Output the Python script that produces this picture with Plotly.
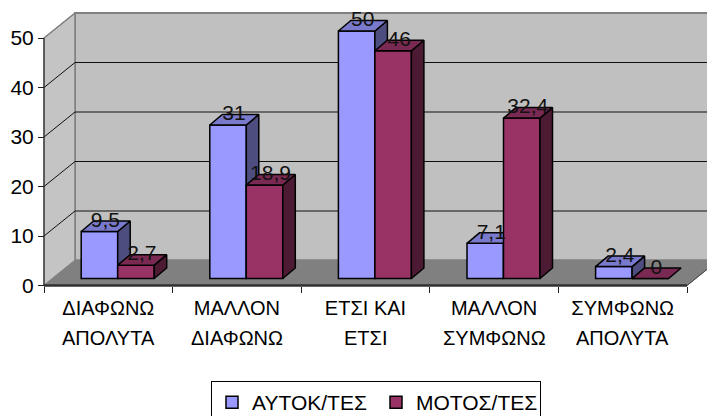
import plotly.graph_objects as go

line1 = ["ΔΙΑΦΩΝΩ", "ΜΑΛΛΟΝ", "ΕΤΣΙ ΚΑΙ", "ΜΑΛΛΟΝ", "ΣΥΜΦΩΝΩ"]
line2 = ["ΑΠΟΛΥΤΑ", "ΔΙΑΦΩΝΩ", "ΕΤΣΙ", "ΣΥΜΦΩΝΩ", "ΑΠΟΛΥΤΑ"]
autok = [9.5, 31, 50, 7.1, 2.4]
moto = [2.7, 18.9, 46, 32.4, 0]
autok_text = ["9,5", "31", "50", "7,1", "2,4"]
moto_text = ["2,7", "18,9", "46", "32,4", "0"]
y_ticks = [0, 10, 20, 30, 40, 50]

W, H = 707, 416
PX_X = 128.6   # px per category
PX_Y = 4.95    # px per value unit
LEFT, RIGHT, TOP, BOTTOM = 30, 707, 5, 300
AX_X, AX_Y = 44, 285.5
FONT = "Liberation Sans, Arial, sans-serif"
FS = 20


def ux(p):
    return p / PX_X


def uy(p):
    return p / PX_Y


x_range = [-0.5 - ux(AX_X - LEFT), -0.5 + ux(RIGHT - AX_X)]
y_range = [-uy(BOTTOM - AX_Y), uy(AX_Y - TOP)]

WX, WY = ux(31), uy(25)          # wall depth
BX, BY = ux(9.4), uy(7)          # front of bars relative to the axis plane
DX, DY = ux(12.5), uy(10.5)      # bar depth
BW = ux(36.5)

fig = go.Figure()


def poly(xs, ys, fill, line="black", lw=1.5, ax=("x", "y")):
    fig.add_trace(go.Scatter(
        x=xs, y=ys, mode="lines", fill="toself" if fill else None, fillcolor=fill,
        line=dict(color=line, width=lw), xaxis=ax[0], yaxis=ax[1],
        showlegend=False, hoverinfo="skip"))


x0, x1 = -0.5, 4.5
top = 50
# walls and floor
poly([x0 + WX, x1 + WX + 1, x1 + WX + 1, x0 + WX, x0 + WX], [WY, WY, top + WY, top + WY, WY], "#C0C0C0", "#808080", 2)
poly([x0, x0 + WX, x0 + WX, x0, x0], [0, WY, top + WY, top, 0], "#C4C4C4", "#808080", 1.5)
poly([x0, x1, x1 + WX, x0 + WX, x0], [0, 0, WY, WY, 0], "#808080", "#808080", 1)
# gridlines
for v in y_ticks[1:]:
    poly([x0, x0 + WX, x1 + WX + 1], [v, v + WY, v + WY], None, "#101010" if v != 50 else "#808080", 1)
poly([x0 + WX, x1 + WX + 1], [WY, WY], None, "#808080", 2)
poly([x0 + WX, x1 + WX + 1], [top + WY, top + WY], None, "#808080", 2)
# axis lines
poly([x0, x1], [0, 0], None, "#303030", 2.5)
poly([x0, x0], [0, top], None, "#202020", 1)
poly([x1, x1 + WX], [0, WY], None, "#404040", 1)


def series(name, vals, offset, front, side, topc, ax):
    xa, ya = ax
    for i, v in enumerate(vals):
        l = i + BX + offset
        r = l + BW
        if v > 0:
            poly([r, r + DX, r + DX, r, r], [BY, BY + DY, BY + DY + v, BY + v, BY], side, ax=ax)
        poly([l, r, r + DX, l + DX, l], [BY + v, BY + v, BY + DY + v, BY + DY + v, BY + v], topc, ax=ax)
    fig.add_trace(go.Bar(
        x=[i + BX + offset + BW / 2 for i in range(len(vals))], y=vals, base=[BY] * len(vals),
        width=BW, name=name, marker=dict(color=front, line=dict(color="black", width=1.5)),
        xaxis=xa, yaxis=ya, hoverinfo="skip"))


series("ΑΥΤΟΚ/ΤΕΣ", autok, -BW, "#9999FF", "#4D4D80", "#7A7ACC", ("x2", "y2"))
series("ΜΟΤΟΣ/ΤΕΣ", moto, 0, "#993366", "#4D1A33", "#7A2952", ("x3", "y3"))

# data labels
for vals, txt, off in [(autok, autok_text, -BW), (moto, moto_text, 0)]:
    fig.add_trace(go.Scatter(
        x=[i + BX + off + BW / 2 + ux(6) for i in range(5)],
        y=[v + BY + uy(10) for v in vals],
        text=txt, mode="text", textposition="middle center",
        textfont=dict(family=FONT, size=21, color="#111111"),
        xaxis="x3", yaxis="y3", showlegend=False, hoverinfo="skip", cliponaxis=False))

# second line of the category labels
annots = [dict(x=i, y=(BOTTOM - 338) / (BOTTOM - TOP), xref="x", yref="paper", text=t, showarrow=False,
               xanchor="center", yanchor="middle", font=dict(family=FONT, size=FS, color="black"))
          for i, t in enumerate(line2)]

overlay = dict(range=x_range, visible=False, overlaying="x", anchor="y", domain=[0, 1])
overlay_y = dict(range=y_range, visible=False, overlaying="y", anchor="x", domain=[0, 1])

fig.update_layout(
    width=W, height=H, paper_bgcolor="white", plot_bgcolor="white",
    margin=dict(l=LEFT, r=W - RIGHT, t=TOP, b=H - BOTTOM, autoexpand=False, pad=0),
    font=dict(family=FONT, size=FS, color="black"),
    barmode="overlay",
    xaxis=dict(
        range=x_range, anchor="free", position=(BOTTOM - AX_Y) / (BOTTOM - TOP),
        tickmode="array", tickvals=list(range(5)), ticktext=line1, ticks="", showgrid=False,
        zeroline=False, showline=False, tickfont=dict(family=FONT, size=FS),
        ticklabelstandoff=8,
        minor=dict(tickmode="array", tickvals=[x0 + k for k in range(6)], ticks="outside",
                   ticklen=6, tickwidth=1, tickcolor="#202020", showgrid=False)),
    yaxis=dict(
        range=y_range, anchor="free", position=(AX_X - LEFT) / (RIGHT - LEFT),
        tickmode="array", tickvals=y_ticks, ticks="outside", ticklen=6, tickwidth=1,
        tickcolor="#202020", showgrid=False, zeroline=False, showline=False,
        tickfont=dict(family=FONT, size=21)),
    xaxis2=overlay, yaxis2=overlay_y, xaxis3=overlay, yaxis3=overlay_y,
    legend=dict(orientation="h", x=(376 - LEFT) / (RIGHT - LEFT), xanchor="center",
                y=(BOTTOM - 381) / (BOTTOM - TOP), yanchor="top", bgcolor="white",
                bordercolor="black", borderwidth=1, font=dict(family=FONT, size=21),
                traceorder="normal", entrywidth=119, entrywidthmode="pixels", itemwidth=30),
    annotations=annots,
)
fig.write_html("out.html", config=dict(displayModeBar=False),
               post_script="document.body.style.margin='0';")
